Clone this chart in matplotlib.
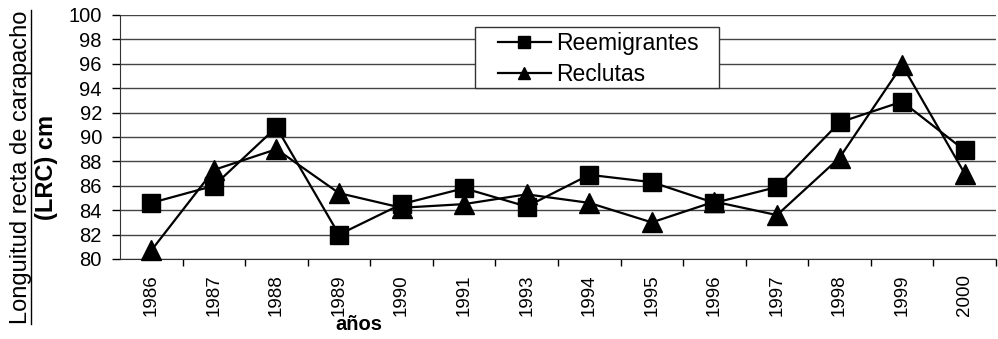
import numpy as np
import matplotlib.pyplot as plt
from matplotlib.lines import Line2D
from matplotlib.patches import Rectangle

plt.rcParams['font.family'] = ['Liberation Sans', 'DejaVu Sans']

# años de muestreo (no hay 1992)
years = ['1986', '1987', '1988', '1989', '1990', '1991', '1993',
         '1994', '1995', '1996', '1997', '1998', '1999', '2000']
reemigrantes = [84.6, 86.0, 90.8, 82.0, 84.5, 85.8, 84.3,
                86.9, 86.3, 84.6, 85.9, 91.2, 92.9, 88.9]
reclutas = [80.7, 87.3, 89.0, 85.4, 84.2, 84.5, 85.3,
            84.6, 83.0, 84.7, 83.6, 88.3, 95.9, 87.0]

W, H = 998, 339
fig = plt.figure(figsize=(W / 100, H / 100), dpi=100)
ax = fig.add_axes([120 / W, 1 - 259 / H, 876 / W, 244 / H])

x = np.arange(len(years))
ax.plot(x, reemigrantes, color='black', lw=1.6, marker='s', ms=13,
        clip_on=False, zorder=3)
ax.plot(x, reclutas, color='black', lw=1.6, marker='^', ms=15,
        clip_on=False, zorder=3)

ax.set_xlim(-0.5, len(years) - 0.5)
ax.set_ylim(80, 100)
ax.set_yticks(np.arange(80, 101, 2))
ax.tick_params(axis='y', labelsize=14.5, length=6, width=1, direction='out', pad=7)

# ticks del eje x entre categorías, etiquetas al centro
ax.set_xticks(x + 0.5)
ax.set_xticklabels([])
ax.set_xticks(x, minor=True)
ax.set_xticklabels(years, minor=True, rotation=90, fontsize=13.5)
ax.tick_params(axis='x', which='major', length=5, width=1, direction='out')
ax.tick_params(axis='x', which='minor', length=0, pad=11)

ax.yaxis.grid(True, color='#444444', lw=1)
ax.set_axisbelow(True)
for s in ['top', 'right']:
    ax.spines[s].set_visible(False)
ax.spines['left'].set_color('#333333')
ax.spines['bottom'].set_color('#333333')

# cuadro de la leyenda
fig.add_artist(Rectangle((475 / W, 1 - 88 / H), 244 / W, 61 / H,
                         transform=fig.transFigure, facecolor='white',
                         edgecolor='#333333', lw=1, zorder=4))
leg = fig.legend(handles=[
    Line2D([], [], color='black', lw=1.6, marker='s', ms=8.5, label='Reemigrantes'),
    Line2D([], [], color='black', lw=1.6, marker='^', ms=9, label='Reclutas')],
    loc='upper left', bbox_to_anchor=(498 / W, 1 - 32 / H),
    frameon=False, fontsize=16.5, handlelength=2.3, borderpad=0,
    labelspacing=0.33, handletextpad=0.25, borderaxespad=0)
leg.set_zorder(5)

fig.text(359 / W, 1 - 325 / H, 'años', ha='center', va='center',
         fontsize=14.5, fontweight='bold')

t1 = fig.text(21 / W, 1 - 167 / H, 'Longuitud recta de carapacho',
              rotation=90, ha='center', va='center', fontsize=17)
fig.text(46 / W, 1 - 167 / H, '(LRC) cm', rotation=90, ha='center',
         va='center', fontsize=17, fontweight='bold')

# subrayado del primer renglón del título
fig.canvas.draw()
bb = t1.get_window_extent().transformed(fig.transFigure.inverted())
ux = 31 / W
fig.add_artist(Line2D([ux, ux], [bb.y0, bb.y1],
                      transform=fig.transFigure, color='black', lw=1))

fig.savefig('out.png', dpi=100)
